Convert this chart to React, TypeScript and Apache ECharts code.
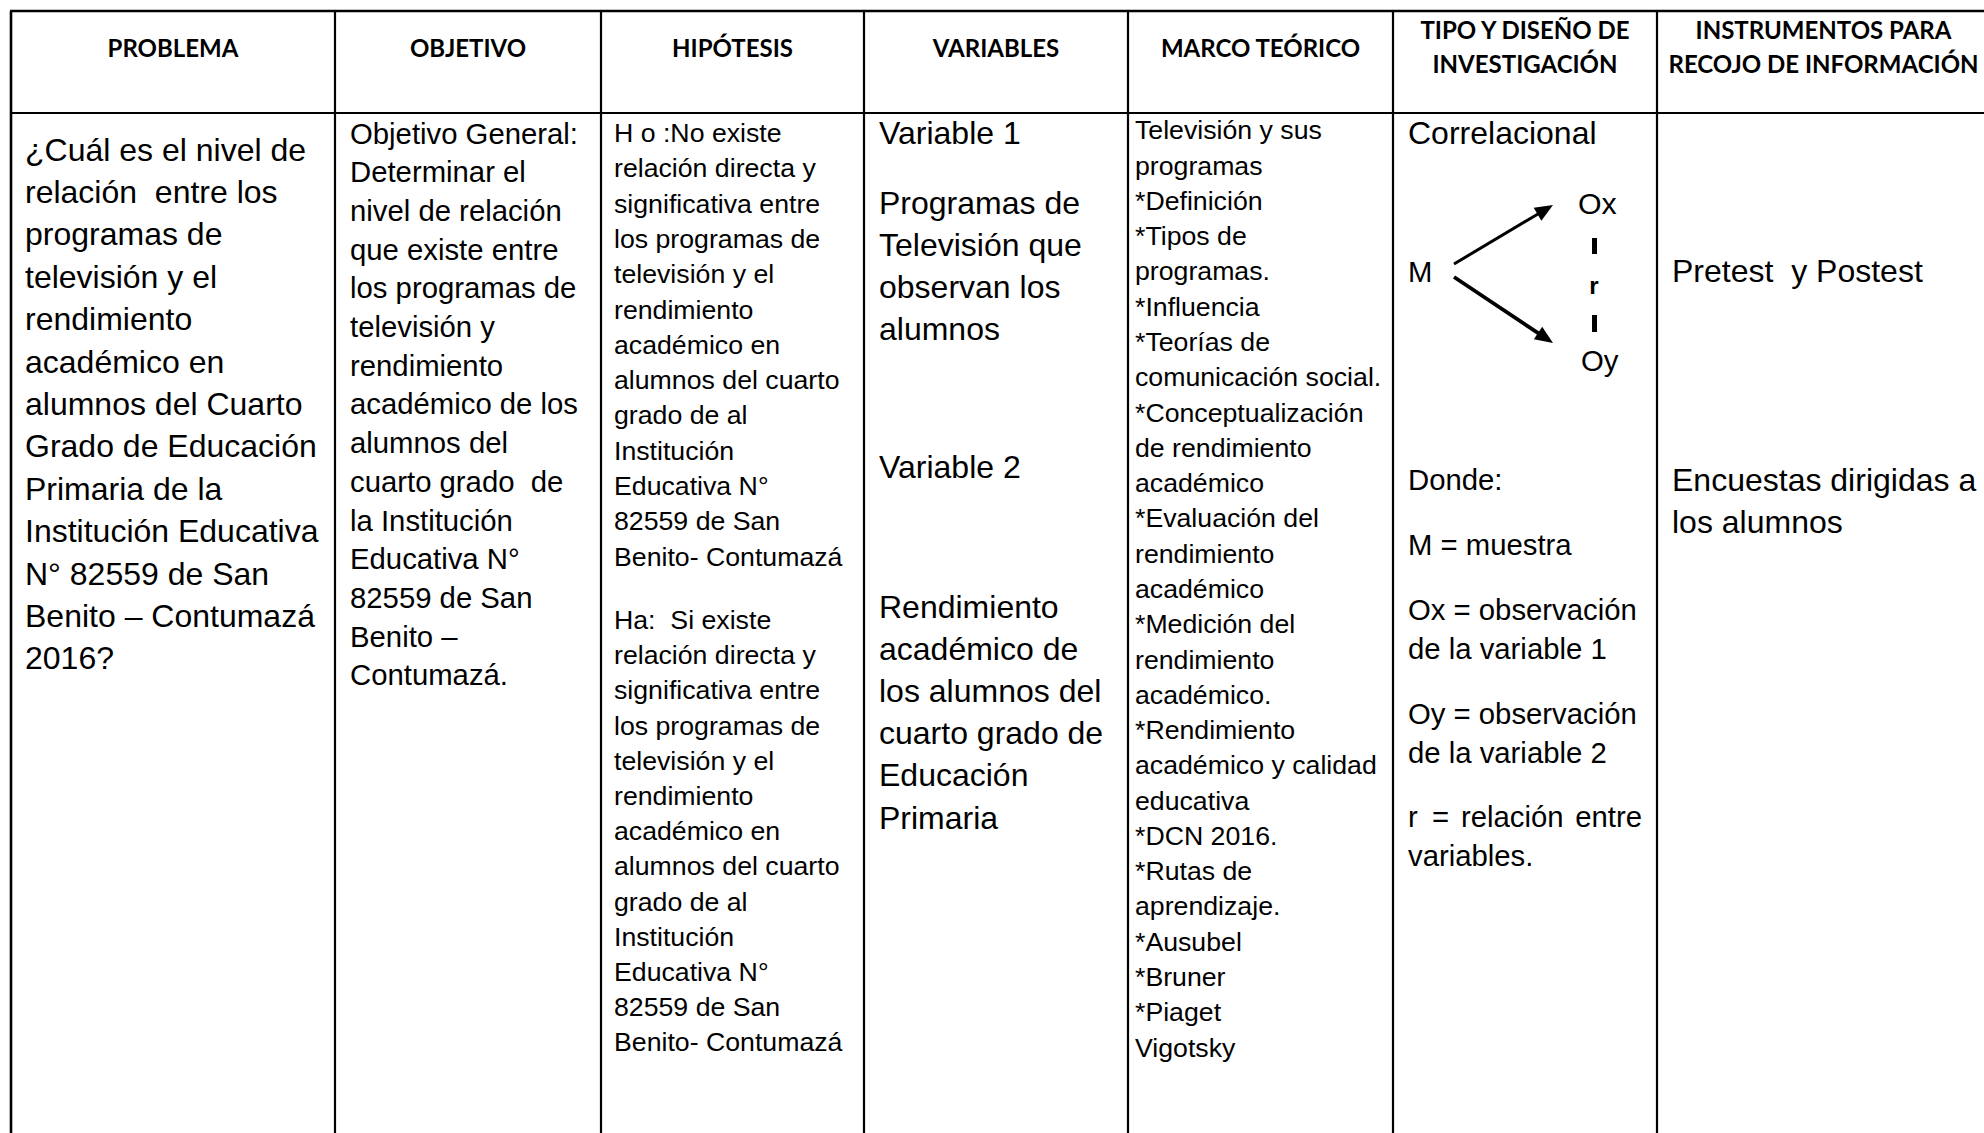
import React, { useEffect, useRef } from "react";
import * as echarts from "echarts";

// ---- Table content ----
const headers: string[][] = [
  ["PROBLEMA"],
  ["OBJETIVO"],
  ["HIPÓTESIS"],
  ["VARIABLES"],
  ["MARCO TEÓRICO"],
  ["TIPO Y DISEÑO DE", "INVESTIGACIÓN"],
  ["INSTRUMENTOS PARA", "RECOJO DE INFORMACIÓN"],
];

const problemaLines = [
  "¿Cuál es el nivel de",
  "relación \u00A0entre los",
  "programas de",
  "televisión y el",
  "rendimiento",
  "académico en",
  "alumnos del Cuarto",
  "Grado de Educación",
  "Primaria de la",
  "Institución Educativa",
  "N° 82559 de San",
  "Benito – Contumazá",
  "2016?",
];

const objetivoLines = [
  "Objetivo General:",
  "Determinar el",
  "nivel de relación",
  "que existe entre",
  "los programas de",
  "televisión y",
  "rendimiento",
  "académico de los",
  "alumnos del",
  "cuarto grado \u00A0de",
  "la Institución",
  "Educativa N°",
  "82559 de San",
  "Benito –",
  "Contumazá.",
];

const hipotesisNulaLines = [
  "H o :No existe",
  "relación directa y",
  "significativa entre",
  "los programas de",
  "televisión y el",
  "rendimiento",
  "académico en",
  "alumnos del cuarto",
  "grado de al",
  "Institución",
  "Educativa N°",
  "82559 de San",
  "Benito- Contumazá",
];

const hipotesisAltLines = [
  "Ha: \u00A0Si existe",
  "relación directa y",
  "significativa entre",
  "los programas de",
  "televisión y el",
  "rendimiento",
  "académico en",
  "alumnos del cuarto",
  "grado de al",
  "Institución",
  "Educativa N°",
  "82559 de San",
  "Benito- Contumazá",
];

const variable1Title = "Variable 1";
const variable1Lines = ["Programas de", "Televisión que", "observan los", "alumnos"];
const variable2Title = "Variable 2";
const variable2Lines = [
  "Rendimiento",
  "académico de",
  "los alumnos del",
  "cuarto grado de",
  "Educación",
  "Primaria",
];

const marcoLines = [
  "Televisión y sus",
  "programas",
  "*Definición",
  "*Tipos de",
  "programas.",
  "*Influencia",
  "*Teorías de",
  "comunicación social.",
  "*Conceptualización",
  "de rendimiento",
  "académico",
  "*Evaluación del",
  "rendimiento",
  "académico",
  "*Medición del",
  "rendimiento",
  "académico.",
  "*Rendimiento",
  "académico y calidad",
  "educativa",
  "*DCN 2016.",
  "*Rutas de",
  "aprendizaje.",
  "*Ausubel",
  "*Bruner",
  "*Piaget",
  "Vigotsky",
];

const tipoTitle = "Correlacional";
const diagramLabels = { m: "M", ox: "Ox", oy: "Oy", r: "r" };
const dondeParagraphs: string[][] = [
  ["Donde:"],
  ["M = muestra"],
  ["Ox = observación", "de la variable 1"],
  ["Oy = observación", "de la variable 2"],
];
const justifiedWords = ["r", "=", "relación", "entre"];
const lastLine = "variables.";

const instrumentosLines1 = ["Pretest \u00A0y Postest"];
const instrumentosLines2 = ["Encuestas dirigidas a", "los alumnos"];

// ---- Layout ----
const W = 1984;
const H = 1133;
const colX = [11, 335, 601, 864, 1128, 1393, 1657, W];
const TOP = 11;
const HEAD_BOTTOM = 113;
const BODY_FONT = "'Liberation Sans', Arial, sans-serif";
const HEAD_FONT = "Lato, 'Open Sans', sans-serif";
const FS_L = 32;
const FS_M = 29.3;
const FS_S = 26.7;

function textEl(text: string, x: number, y: number, fontSize: number, opts: any = {}) {
  return {
    type: "text",
    x,
    y,
    silent: true,
    style: {
      text,
      fill: "#000",
      fontSize,
      fontFamily: opts.fontFamily || BODY_FONT,
      fontWeight: opts.fontWeight || "normal",
      textAlign: opts.align || "left",
      textVerticalAlign: "middle",
    },
  };
}

function block(lines: string[], x: number, y0: number, lh: number, fs: number) {
  return lines.map((t, i) => textEl(t, x, y0 + i * lh, fs));
}

function arrow(x1: number, y1: number, x2: number, y2: number, lw: number) {
  const dx = x2 - x1;
  const dy = y2 - y1;
  const len = Math.sqrt(dx * dx + dy * dy);
  const ux = dx / len;
  const uy = dy / len;
  const hl = 18;
  const hw = 7.5;
  const bx = x2 - ux * hl;
  const by = y2 - uy * hl;
  return [
    {
      type: "line",
      silent: true,
      shape: { x1, y1, x2: bx + ux * 2, y2: by + uy * 2 },
      style: { stroke: "#000", lineWidth: lw },
    },
    {
      type: "polygon",
      silent: true,
      shape: {
        points: [
          [x2, y2],
          [bx - uy * hw, by + ux * hw],
          [bx + uy * hw, by - ux * hw],
        ],
      },
      style: { fill: "#000" },
    },
  ];
}

function buildGraphics() {
  const els: any[] = [];
  // Borders
  const lw = 2.2;
  els.push({ type: "line", silent: true, shape: { x1: colX[0] - 1, y1: TOP, x2: W, y2: TOP }, style: { stroke: "#000", lineWidth: 2.6 } });
  els.push({ type: "line", silent: true, shape: { x1: colX[0] - 1, y1: HEAD_BOTTOM, x2: W, y2: HEAD_BOTTOM }, style: { stroke: "#000", lineWidth: lw } });
  for (let i = 0; i < colX.length - 1; i++) {
    els.push({ type: "line", silent: true, shape: { x1: colX[i], y1: TOP, x2: colX[i], y2: H }, style: { stroke: "#000", lineWidth: i === 0 ? 2.6 : lw } });
  }

  // Headers
  headers.forEach((h, i) => {
    const cx = (colX[i] + (i === headers.length - 1 ? 1990 : colX[i + 1])) / 2;
    if (h.length === 1) {
      els.push(textEl(h[0], cx, 47, 24, { fontFamily: HEAD_FONT, fontWeight: "bold", align: "center" }));
    } else {
      els.push(textEl(h[0], cx, 29, 24, { fontFamily: HEAD_FONT, fontWeight: "bold", align: "center" }));
      els.push(textEl(h[1], cx, 63, 24, { fontFamily: HEAD_FONT, fontWeight: "bold", align: "center" }));
    }
  });

  // Problema
  els.push(...block(problemaLines, 25, 149.5, 42.4, FS_L));
  // Objetivo
  els.push(...block(objetivoLines, 350, 133, 38.7, FS_M));
  // Hipótesis
  els.push(...block(hipotesisNulaLines, 614, 133, 35.3, FS_S));
  els.push(...block(hipotesisAltLines, 614, 620, 35.2, FS_S));
  // Variables
  els.push(textEl(variable1Title, 879, 133, FS_L));
  els.push(...block(variable1Lines, 879, 202.5, 42.2, FS_L));
  els.push(textEl(variable2Title, 879, 467, FS_L));
  els.push(...block(variable2Lines, 879, 606.5, 42.2, FS_L));
  // Marco teórico
  els.push(...block(marcoLines, 1135, 130.3, 35.28, FS_S));
  // Tipo y diseño
  els.push(textEl(tipoTitle, 1408, 133, FS_L));
  els.push(textEl(diagramLabels.m, 1408, 271, FS_M));
  els.push(textEl(diagramLabels.ox, 1578, 203, FS_M + 1));
  els.push(textEl(diagramLabels.oy, 1581, 360, FS_M));
  els.push(textEl(diagramLabels.r, 1594, 285, 24, { fontWeight: "bold", align: "center" }));
  els.push({ type: "rect", silent: true, shape: { x: 1592, y: 238, width: 5, height: 16 }, style: { fill: "#000" } });
  els.push({ type: "rect", silent: true, shape: { x: 1592, y: 315, width: 5, height: 17 }, style: { fill: "#000" } });
  els.push(...arrow(1454, 264, 1553, 205, 3));
  els.push(...arrow(1454, 277, 1553, 343, 3.8));
  const dondeY = [479, 544, 609, 713];
  dondeParagraphs.forEach((p, i) => {
    els.push(...block(p, 1408, dondeY[i], 39, FS_M));
  });
  // justified line "r = relación entre"
  const jy = 816.5;
  const jx = [1408, 1432, 1461, 1642];
  justifiedWords.forEach((w, i) => {
    els.push(textEl(w, jx[i], jy, FS_M, { align: i === justifiedWords.length - 1 ? "right" : "left" }));
  });
  els.push(textEl(lastLine, 1408, jy + 39, FS_M));
  // Instrumentos
  els.push(...block(instrumentosLines1, 1672, 271, 42.4, FS_L));
  els.push(...block(instrumentosLines2, 1672, 479.5, 42.2, FS_L));
  return els;
}

export default function App() {
  const ref = useRef<HTMLDivElement>(null);
  useEffect(() => {
    document.body.style.margin = "0";
    document.body.style.overflow = "hidden";
    if (!ref.current) return;
    const chart = echarts.init(ref.current, null, { renderer: "svg" });
    chart.setOption({
      animation: false,
      backgroundColor: "#ffffff",
      graphic: { elements: buildGraphics() },
    });
    return () => chart.dispose();
  }, []);
  return <div ref={ref} style={{ width: W, height: H, background: "#fff" }} />;
}
